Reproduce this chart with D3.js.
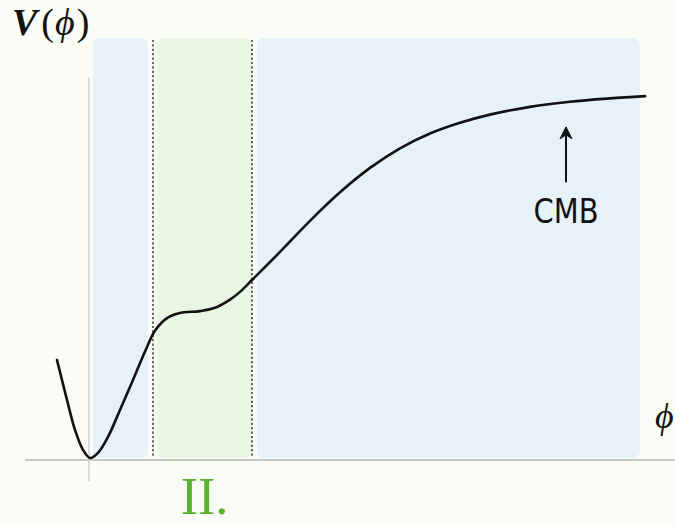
<!DOCTYPE html>
<html>
<head>
<meta charset="utf-8">
<script src="https://cdn.jsdelivr.net/npm/d3@7"></script>
<style>
  html, body { margin: 0; padding: 0; background: #fafcf6; }
  svg { display: block; }
</style>
</head>
<body>
<svg id="chart" width="675" height="526"></svg>
<script>
// Potential V(phi): field values and potential values along the curve
const phiValues = [-0.66, -0.46, -0.3, -0.14, 0, 0.16, 0.36, 0.6, 0.86, 1.14, 1.3, 1.54, 1.8, 2.2, 2.5, 2.8, 3.0, 3.24, 3.8, 4.4, 5.0, 5.6, 6.2, 6.8, 7.4, 8.0, 8.8, 9.6, 10.4, 11.1];
const potentialValues = [0.265, 0.157, 0.076, 0.022, 0, 0.014, 0.057, 0.130, 0.211, 0.300, 0.344, 0.378, 0.392, 0.397, 0.406, 0.428, 0.449, 0.481, 0.557, 0.641, 0.718, 0.784, 0.837, 0.877, 0.906, 0.928, 0.949, 0.963, 0.972, 0.978];

// Shaded field ranges and the boundaries of the plateau region
const bandNames = ["I", "II", "III"];
const bandStarts = [0.06, 1.34, 3.34];
const bandEnds = [1.16, 3.24, 11.0];
const boundaryValues = [1.26, 3.24];

// Annotations
const regionLabel = "II.";
const markerLabel = "CMB";
const markerPhi = 9.52;
const markerRange = [0.895, 0.745];

const W = 675, H = 526;
const svg = d3.select("#chart");

const x = d3.scaleLinear().domain([-1.8, 11.7]).range([0, 675]);
const y = d3.scaleLinear().domain([0, 1]).range([458, 88]);

const bandColors = ["#e7f1fa", "#e9f6e3", "#e7f1fa"];
const serif = "Liberation Serif, DejaVu Serif, serif";

// Shaded regions
svg.append("g").selectAll("rect")
  .data(bandNames)
  .join("rect")
  .attr("x", (d, i) => x(bandStarts[i]))
  .attr("width", (d, i) => x(bandEnds[i]) - x(bandStarts[i]))
  .attr("y", y(1.135))
  .attr("height", y(0) - y(1.135))
  .attr("rx", 7)
  .attr("fill", (d, i) => bandColors[i]);

// Axes
svg.append("line")
  .attr("x1", 25).attr("x2", W)
  .attr("y1", y(0) + 2).attr("y2", y(0) + 2)
  .attr("stroke", "#b6b8b4").attr("stroke-width", 1.6);
svg.append("line")
  .attr("x1", x(0) - 1).attr("x2", x(0) - 1)
  .attr("y1", 77).attr("y2", 481)
  .attr("stroke", "#c9cbc7").attr("stroke-width", 1.3);

// Region boundaries
svg.append("g").selectAll("line")
  .data(boundaryValues)
  .join("line")
  .attr("x1", d => x(d)).attr("x2", d => x(d))
  .attr("y1", y(1.13)).attr("y2", y(0))
  .attr("stroke", "#1a1a1a")
  .attr("stroke-width", 1.3)
  .attr("stroke-dasharray", "2.2,2.2");

// Potential curve
const line = d3.line()
  .x(d => x(d))
  .y((d, i) => y(potentialValues[i]))
  .curve(d3.curveCatmullRom.alpha(0.5));
svg.append("path")
  .attr("d", line(phiValues))
  .attr("fill", "none")
  .attr("stroke", "#111")
  .attr("stroke-width", 2.6)
  .attr("stroke-linecap", "round")
  .attr("stroke-linejoin", "round");

// CMB marker arrow
const mx = x(markerPhi);
const tipY = y(markerRange[0]);
svg.append("line")
  .attr("x1", mx).attr("x2", mx)
  .attr("y1", y(markerRange[1])).attr("y2", tipY + 6)
  .attr("stroke", "#111").attr("stroke-width", 2);
svg.append("path")
  .attr("d", `M${mx},${tipY} L${mx - 6},${tipY + 12} L${mx},${tipY + 8} L${mx + 6},${tipY + 12} Z`)
  .attr("fill", "#111")
  .attr("stroke", "#111").attr("stroke-width", 1).attr("stroke-linejoin", "round");
svg.append("text")
  .attr("x", mx).attr("y", 223)
  .attr("text-anchor", "middle")
  .attr("font-family", "DejaVu Sans")
  .attr("font-size", 34)
  .attr("fill", "#111")
  .attr("transform", `translate(${mx},0) scale(0.85,1) translate(${-mx},0)`)
  .text(markerLabel);

// Vertical axis label V(ϕ)
const vLabel = svg.append("text")
  .attr("x", 12).attr("y", 35)
  .attr("font-family", serif)
  .attr("font-size", 38)
  .attr("fill", "#111");
vLabel.append("tspan").attr("font-style", "italic").attr("font-weight", "bold").text("V");
vLabel.append("tspan").attr("dx", 4).text("(");
vLabel.append("tspan").attr("font-style", "italic").attr("dx", 1).text("ϕ");
vLabel.append("tspan").attr("dx", 2).text(")");

// Horizontal axis label
svg.append("text")
  .attr("x", 655).attr("y", 428)
  .attr("font-family", serif)
  .attr("font-style", "italic")
  .attr("font-size", 36)
  .attr("fill", "#111")
  .text("ϕ");

// Region label
svg.append("text")
  .attr("x", (x(boundaryValues[0]) + x(boundaryValues[1])) / 2 + 2)
  .attr("y", 514)
  .attr("text-anchor", "middle")
  .attr("font-family", serif)
  .attr("font-size", 52)
  .attr("fill", "#5cb130")
  .text(regionLabel);
</script>
</body>
</html>
